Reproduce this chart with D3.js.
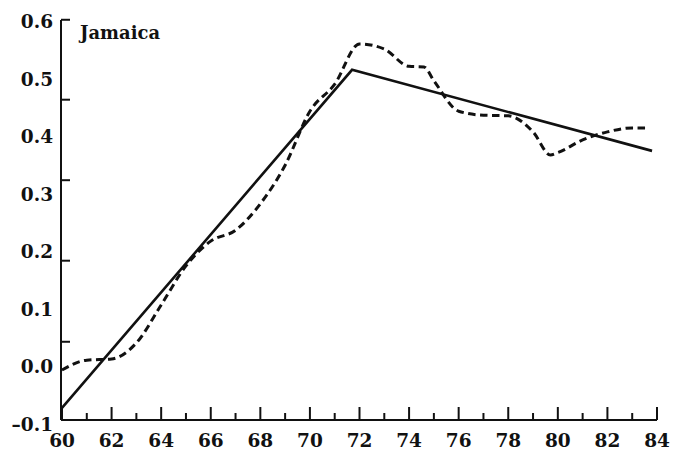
<!DOCTYPE html>
<html>
<head>
<meta charset="utf-8">
<script src="https://cdn.jsdelivr.net/npm/d3@7/dist/d3.min.js"></script>
<style>
  html, body { margin: 0; padding: 0; background: #fff; }
  svg { display: block; }
  text { font-family: "DejaVu Serif", "Liberation Serif", serif; fill: #111; }
</style>
</head>
<body>
<svg id="chart" width="676" height="456"></svg>
<script>
// Jamaica: actual series (dashed) and fitted segmented trend (solid)
const years = [60, 61, 62, 63, 64, 65, 66, 67, 68, 69, 70, 71, 72, 73, 74, 74.6, 75, 76, 77, 78, 79, 79.7, 80, 81, 82, 83, 83.6];
const actual = [-0.006, 0.011, 0.013, 0.041, 0.107, 0.175, 0.218, 0.237, 0.283, 0.350, 0.444, 0.491, 0.561, 0.552, 0.522, 0.521, 0.497, 0.444, 0.437, 0.436, 0.408, 0.368, 0.372, 0.394, 0.408, 0.415, 0.415];
const trendYears = [60, 71.7, 83.8];
const trend = [-0.072, 0.516, 0.375];

const xTickYears = d3.range(60, 85, 1);
const xLabelYears = d3.range(60, 85, 2);
const yLabels = [-0.1, 0.0, 0.1, 0.2, 0.3, 0.4, 0.5, 0.6];
const yMarks = [0.603, 0.464, 0.324, 0.184, 0.043];
const title = "Jamaica";

const svg = d3.select("#chart");
const plotLeft = 61, plotRight = 657, plotTop = 20, plotBottom = 420;

const x = d3.scaleLinear().domain([60, 84]).range([62, plotRight]);
const y = d3.scaleLinear().domain([-0.1, 0.6]).range([424, 21.5]);

const ink = "#111";

// x axis: line with inward ticks, long at even years, short at odd years
svg.append("line")
  .attr("x1", plotLeft).attr("x2", plotRight)
  .attr("y1", plotBottom).attr("y2", plotBottom)
  .attr("stroke", ink).attr("stroke-width", 2);
svg.append("g").selectAll("line")
  .data(xTickYears)
  .join("line")
  .attr("x1", d => x(d)).attr("x2", d => x(d))
  .attr("y1", plotBottom)
  .attr("y2", d => d % 2 === 0 ? plotBottom - 13 : plotBottom - 7)
  .attr("stroke", ink).attr("stroke-width", 2);
svg.append("g").selectAll("text")
  .data(xLabelYears)
  .join("text")
  .attr("x", d => x(d))
  .attr("y", 447)
  .attr("text-anchor", "middle")
  .attr("font-size", 18.5)
  .attr("font-weight", "bold")
  .text(d => d);

// y axis: line, inward ticks and labels
svg.append("line")
  .attr("x1", plotLeft).attr("x2", plotLeft)
  .attr("y1", plotTop).attr("y2", plotBottom)
  .attr("stroke", ink).attr("stroke-width", 2);
svg.append("g").selectAll("line")
  .data(yMarks)
  .join("line")
  .attr("x1", plotLeft).attr("x2", plotLeft + 9)
  .attr("y1", d => y(d)).attr("y2", d => y(d))
  .attr("stroke", ink).attr("stroke-width", 2);
svg.append("g").selectAll("text")
  .data(yLabels)
  .join("text")
  .attr("x", 53)
  .attr("y", d => y(d))
  .attr("dy", "0.36em")
  .attr("text-anchor", "end")
  .attr("font-size", 18.5)
  .attr("font-weight", "bold")
  .text(d => d < 0 ? "\u2013" + Math.abs(d).toFixed(1) : d.toFixed(1));

// title inside the plot
svg.append("text")
  .attr("x", 80).attr("y", 39)
  .attr("font-size", 18)
  .attr("font-weight", "bold")
  .attr("textLength", 80)
  .attr("lengthAdjust", "spacingAndGlyphs")
  .text(title);

// fitted trend
const trendLine = d3.line()
  .x((d, i) => x(trendYears[i]))
  .y(d => y(d));
svg.append("path")
  .attr("d", trendLine(trend))
  .attr("fill", "none")
  .attr("stroke", ink)
  .attr("stroke-width", 2.6);

// actual series
const actualLine = d3.line()
  .x((d, i) => x(years[i]))
  .y(d => y(d))
  .curve(d3.curveMonotoneX);
svg.append("path")
  .attr("d", actualLine(actual))
  .attr("fill", "none")
  .attr("stroke", ink)
  .attr("stroke-width", 3)
  .attr("stroke-dasharray", "7.5,4.5");
</script>
</body>
</html>
